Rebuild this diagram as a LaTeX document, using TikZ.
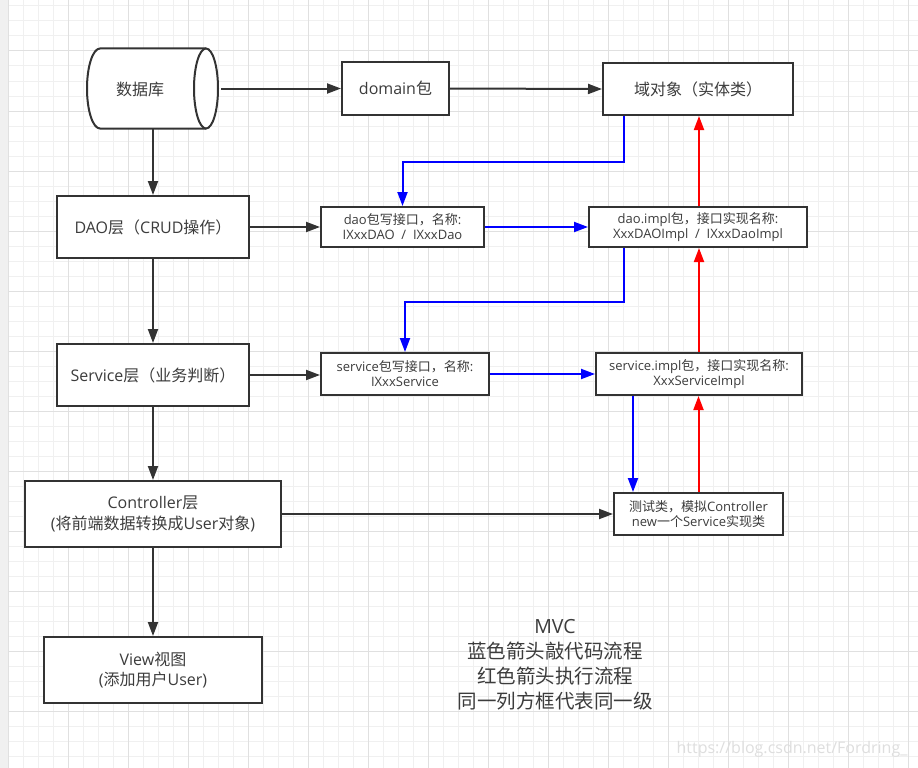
\documentclass[tikz,border=0pt]{standalone}
\usepackage{fontspec}
\setmainfont{Open Sans}
\newfontfamily\cjk{Noto Sans CJK SC}
\newcommand\zh[1]{{\cjk #1}}
\usetikzlibrary{arrows.meta,calc}
\definecolor{txt}{RGB}{60,60,60}
\definecolor{edge}{RGB}{51,51,51}
\definecolor{gminor}{RGB}{240,240,240}
\definecolor{gmajor}{RGB}{224,224,224}
\definecolor{strip}{RGB}{240,240,240}
\definecolor{bl}{RGB}{0,0,255}
\definecolor{rd}{RGB}{255,0,0}
\definecolor{wm}{RGB}{222,222,222}
\tikzset{
  box/.style={draw=edge, line width=2pt, fill=white, text=txt, align=center, inner sep=0pt, font=\fontsize{16}{19}\selectfont},
  sbox/.style={box, font=\fontsize{13}{15}\selectfont},
  conn/.style={draw=edge, line width=2pt, -{Triangle[length=14pt,width=10pt]}},
  bconn/.style={conn, draw=bl},
  rconn/.style={conn, draw=rd},
}
\begin{document}
\begin{tikzpicture}[x=1pt,y=-1pt]
\useasboundingbox (0,0) rectangle (918,768);
\fill[white] (0,0) rectangle (918,768);
% grid
\fill[strip] (0,0) rectangle (8.3,768);
\foreach \i in {0,...,60} \draw[gminor, line width=1pt] (8.3+15*\i,0) -- (8.3+15*\i,768);
\foreach \i in {0,...,50} \draw[gminor, line width=1pt] (8.3,6+15*\i) -- (918,6+15*\i);
\foreach \i in {0,...,15} \draw[gmajor, line width=1pt] (8.3+60*\i,0) -- (8.3+60*\i,768);
\foreach \i in {0,...,11} \draw[gmajor, line width=1pt] (8.3,51+60*\i) -- (918,51+60*\i);

% cylinder
\node[minimum width=136pt, minimum height=80pt, inner sep=0pt] (db) at (153,88.5) {};
\draw[edge, line width=2pt, fill=white] (206,48.5) -- (100,48.5) arc (270:90:13 and 40) -- (206,128.5);
\draw[edge, line width=2pt, fill=white] (206,88.5) ellipse (12 and 40);
\node[text=txt, font=\fontsize{16}{19}\selectfont] (dbt) at (140,89) {\zh{数据库}};

% boxes
\node[box, minimum width=107pt, minimum height=52pt] (domain) at (395.5,88.5) {domain\zh{包}};
\node[box, minimum width=190pt, minimum height=52pt] (entity) at (698,89) {\zh{域对象（实体类）}};
\node[box, minimum width=192pt, minimum height=62pt] (daol) at (153,227) {DAO\zh{层（}CRUD\zh{操作）}};
\node[sbox, minimum width=163pt, minimum height=40pt] (daoif) at (402.5,227) {dao\zh{包写接口，名称}:\\IXxxDAO\ \ /\ \ IXxxDao};
\node[sbox, minimum width=218pt, minimum height=40pt] (daoimpl) at (698,227) {dao.impl\zh{包，接口实现名称}:\\XxxDAOImpl\ \ /\ \ IXxxDaoImpl};
\node[box, minimum width=192pt, minimum height=62pt] (svcl) at (153,375) {Service\zh{层（业务判断）}};
\node[sbox, minimum width=168pt, minimum height=42pt] (svcif) at (405,374) {service\zh{包写接口，名称}:\\IXxxService};
\node[sbox, minimum width=206pt, minimum height=42pt] (svcimpl) at (699,374) {service.impl\zh{包，接口实现名称}:\\XxxServiceImpl};
\node[box, minimum width=256pt, minimum height=66pt, font=\fontsize{16}{21.5}\selectfont] (ctrl) at (153,514) {Controller\zh{层}\\(\zh{将前端数据转换成}User\zh{对象})};
\node[sbox, minimum width=169pt, minimum height=42pt] (test) at (698.5,514) {\zh{测试类，模拟}Controller\\new\zh{一个}Service\zh{实现类}};
\node[box, minimum width=218pt, minimum height=66pt, font=\fontsize{16}{20.7}\selectfont] (view) at (153,670) {View\zh{视图}\\(\zh{添加用户}User)};

% note
\node[text=txt, align=center, font=\fontsize{19.5}{25}\selectfont] (note) at (555,665) {MVC\\\zh{蓝色箭头敲代码流程}\\\zh{红色箭头执行流程}\\\zh{同一列方框代表同一级}};
\node[text=wm, font=\fontsize{16}{19}\selectfont, anchor=east] (wmk) at (911,749) {https://blog.csdn.net/Fordring\_};

% black connectors
\draw[conn] (db.east) -- (domain.west);
\draw[conn] (domain.east) -- (entity.west);
\draw[conn] (db.south) -- (daol.north);
\draw[conn] (daol.east) -- (daoif.west);
\draw[conn] (daol.south) -- (svcl.north);
\draw[conn] (svcl.east) -- (svcl.east -| svcif.west);
\draw[conn] (svcl.south) -- (ctrl.north);
\draw[conn] (ctrl.south) -- (view.north);
\draw[conn] (ctrl.east) -- (test.west);

% blue connectors
\draw[bconn] (daoif.east) -- (daoimpl.west);
\draw[bconn] (svcif.east) -- (svcif.east -| svcimpl.west);
\draw[bconn] ([xshift=-74pt]entity.south) -- ++(0,46) -| (daoif.north);
\draw[bconn] ([xshift=-74pt]daoimpl.south) -- ++(0,54) -| (svcif.north);
\draw[bconn] ([xshift=-66pt]svcimpl.south) -- ([xshift=-66pt]svcimpl.south |- test.north);

% red connectors
\draw[rconn] ([xshift=1pt]daoimpl.north) -- ([xshift=1pt]daoimpl.north |- entity.south);
\draw[rconn] (svcimpl.north) -- (svcimpl.north |- daoimpl.south);
\draw[rconn] (test.north) -- (test.north |- svcimpl.south);
\end{tikzpicture}
\end{document}
